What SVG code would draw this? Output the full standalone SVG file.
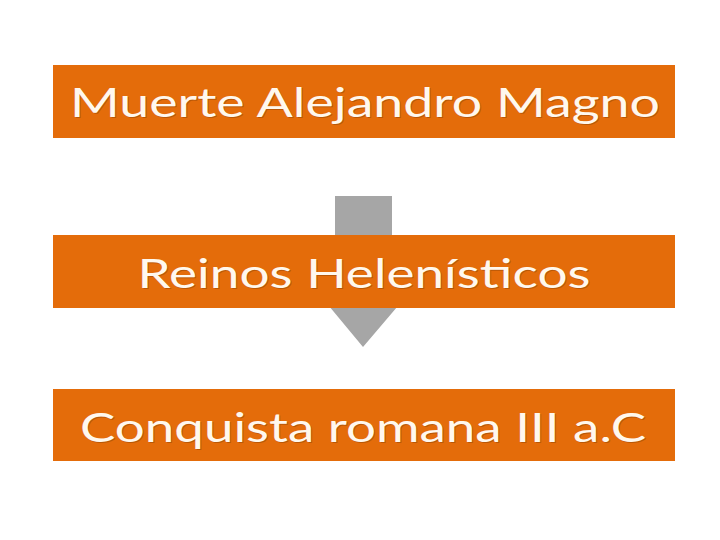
<svg xmlns="http://www.w3.org/2000/svg" width="720" height="540" viewBox="0 0 720 540">
<style>
.box{fill:#E46C0A}
.t{font-family:Lato,"Open Sans","Liberation Sans",sans-serif;font-size:41px;fill:#FFF8EE;text-anchor:middle}
.sh{fill:#7a3a05;opacity:0.4}
</style>
<rect width="720" height="540" fill="#FFFFFF"/>
<g id="connectors">
<path d="M335,196 H392 V300 H403 L363,347 L324,300 H335 Z" fill="#A6A6A6"/>
</g>
<g id="node1">
<rect class="box" x="53" y="65" width="622" height="73"/>
<text class="t sh" x="366" y="118" textLength="590" lengthAdjust="spacingAndGlyphs">Muerte Alejandro Magno</text>
<text class="t" x="365" y="117" textLength="590" lengthAdjust="spacingAndGlyphs">Muerte Alejandro Magno</text>
</g>
<g id="node2">
<rect class="box" x="53" y="235" width="622" height="73"/>
<text class="t sh" x="365" y="289" textLength="453" lengthAdjust="spacingAndGlyphs">Reinos Helenísticos</text>
<text class="t" x="364" y="288" textLength="453" lengthAdjust="spacingAndGlyphs">Reinos Helenísticos</text>
</g>
<g id="node3">
<rect class="box" x="53" y="389" width="622" height="72"/>
<text class="t sh" x="364" y="443" textLength="566" lengthAdjust="spacingAndGlyphs">Conquista romana III a.C</text>
<text class="t" x="363" y="442" textLength="566" lengthAdjust="spacingAndGlyphs">Conquista romana III a.C</text>
</g>
</svg>
